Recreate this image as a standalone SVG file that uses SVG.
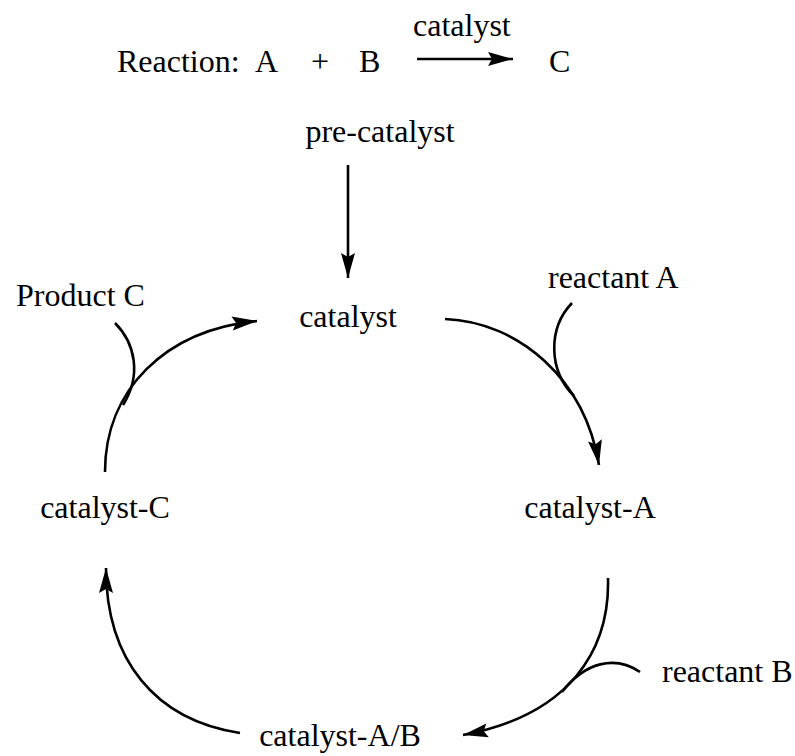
<svg xmlns="http://www.w3.org/2000/svg" width="795" height="756" viewBox="0 0 795 756">
<style>
text{font-family:"Liberation Serif","Times New Roman",serif;font-size:32px;fill:#000}
.c{fill:none;stroke:#000;stroke-width:2.6}
</style>
<defs>
<marker id="ah" markerUnits="userSpaceOnUse" markerWidth="30" markerHeight="20" viewBox="-26 -10 30 20" refX="0" refY="0" orient="auto" overflow="visible">
<path d="M0,0 L-25,-7 L-21,0 L-25,7 Z" fill="#000"/>
</marker>
</defs>
<rect width="795" height="756" fill="#fff"/>
<g id="equation">
<text x="117" y="72">Reaction:</text>
<text x="255" y="72">A</text>
<text x="311" y="72">+</text>
<text x="359" y="72">B</text>
<text x="413" y="36">catalyst</text>
<path class="c" d="M417,59 L513,59" marker-end="url(#ah)"/>
<text x="549" y="72">C</text>
</g>
<g id="pre-catalyst"><text x="380" y="142" text-anchor="middle">pre-catalyst</text></g>
<g id="catalyst"><text x="348" y="327" text-anchor="middle">catalyst</text></g>
<g id="reactant-A"><text x="548" y="288">reactant A</text></g>
<g id="catalyst-A"><text x="590" y="518" text-anchor="middle">catalyst-A</text></g>
<g id="reactant-B"><text x="662" y="682">reactant B</text></g>
<g id="catalyst-AB"><text x="340" y="746" text-anchor="middle">catalyst-A/B</text></g>
<g id="catalyst-C"><text x="105" y="518" text-anchor="middle">catalyst-C</text></g>
<g id="product-C"><text x="16" y="306">Product C</text></g>
<g id="connectors">
<path class="c" d="M348,165 L348,278" marker-end="url(#ah)"/>
<path class="c" d="M445,319 C520,322 585,380 599,465" marker-end="url(#ah)"/>
<path class="c" d="M572,303 C548,328 548,370 574,396"/>
<path class="c" d="M608,578 C610,650 570,715 463,735" marker-end="url(#ah)"/>
<path class="c" d="M640,672 C615,655 585,662 562,692"/>
<path class="c" d="M240,733 C155,720 106,660 106,568" marker-end="url(#ah)"/>
<path class="c" d="M105,472 C105,390 165,330 257,321" marker-end="url(#ah)"/>
<path class="c" d="M115,323 C135,343 142,375 123,405"/>
</g>
</svg>
